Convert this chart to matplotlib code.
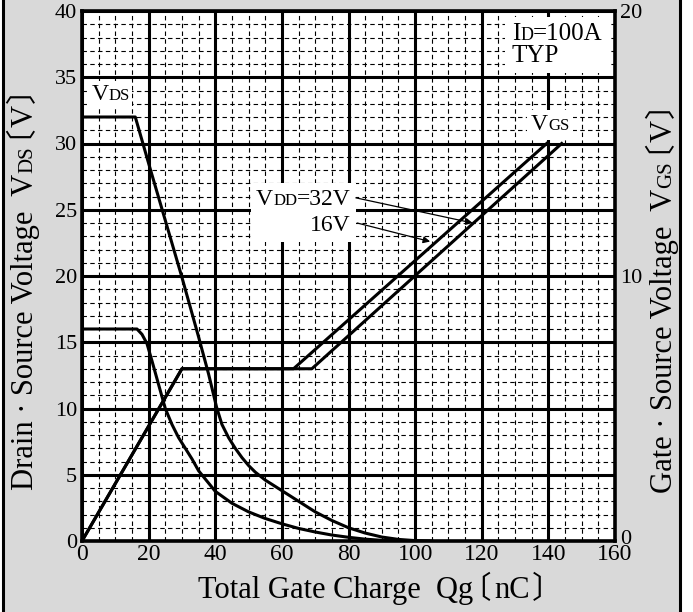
import matplotlib
matplotlib.use('Agg')
import matplotlib.pyplot as plt
from matplotlib.ticker import MultipleLocator
from matplotlib.offsetbox import TextArea, HPacker, VPacker, AnnotationBbox
from matplotlib.transforms import IdentityTransform, ScaledTranslation
from matplotlib.patches import Rectangle
from matplotlib.font_manager import FontProperties, findfont, get_font

plt.rcParams['font.family'] = ['Liberation Serif', 'Noto Sans CJK JP']

# drain-source voltage, VDD = 32V and 16V (left axis)
qg_vds32 = [0, 16, 20, 25, 30, 35, 38, 40.4, 42, 44, 46, 48, 50, 52, 55, 60, 65, 70, 75, 80, 85, 90, 95, 100, 105]
vds32 = [32, 32, 28.5, 24.2, 19.9, 15.4, 12.6, 10.1, 8.8, 7.8, 7.0, 6.3, 5.7, 5.2, 4.6, 3.8, 3.0, 2.2, 1.55, 1.0, 0.6, 0.3, 0.12, 0.03, 0]
qg_vds16 = [0, 16.5, 18, 19.5, 21, 23, 25, 27, 29, 31, 33, 35, 40, 45, 50, 55, 60, 65, 70, 75, 80, 85, 90, 95]
vds16 = [16, 16, 15.6, 14.9, 13.6, 11.8, 10.0, 8.8, 7.8, 7.0, 6.2, 5.3, 3.75, 2.85, 2.2, 1.7, 1.3, 0.95, 0.68, 0.45, 0.28, 0.14, 0.05, 0]

# gate-source voltage (right axis)
qg_vgs16 = [0, 30, 63.5, 139.5]
vgs16 = [0, 6.5, 6.5, 15]
qg_vgs32 = [0, 30, 69, 144]
vgs32 = [0, 6.5, 6.5, 15]

fig = plt.figure(figsize=(6.93, 6.12), dpi=100, facecolor='white')
fig.add_artist(Rectangle((3 / 693, -0.02), 677 / 693, 1.04, transform=fig.transFigure,
                         facecolor='#d9d9d9', edgecolor='black', lw=2.2, zorder=-1))

ax = fig.add_axes([82 / 693, 1 - 541 / 612, 533 / 693, 530 / 612])
ax.set_xlim(0, 160)
ax.set_ylim(0, 40)
ax.xaxis.set_major_locator(MultipleLocator(20))
ax.xaxis.set_minor_locator(MultipleLocator(5))
ax.yaxis.set_major_locator(MultipleLocator(5))
ax.yaxis.set_minor_locator(MultipleLocator(1))
ax.grid(which='minor', color='black', lw=0.8, ls=(0, (4, 3)))
ax.grid(which='major', color='black', lw=2.2)
ax.set_axisbelow(True)
ax.tick_params(which='both', length=0)
ax.tick_params(axis='x', pad=2.5, labelsize=17)
ax.tick_params(axis='y', pad=3.5, labelsize=16)
for s in ax.spines.values():
    s.set_linewidth(2.6)

ax2 = ax.twinx()
ax2.set_ylim(0, 20)
ax2.set_yticks([0, 10, 20])
ax2.tick_params(length=0, labelsize=16, pad=3.5)
for s in ax2.spines.values():
    s.set_visible(False)
# lift the right-hand 0 a little off the 160 below it
zero = ax2.yaxis.get_major_ticks()[0].label2
zero.set_transform(zero.get_transform() + ScaledTranslation(0, 3 / 72, fig.dpi_scale_trans))

ax.plot(qg_vds32, vds32, color='black', lw=2.2)
ax.plot(qg_vds16, vds16, color='black', lw=2.2)
ax2.plot(qg_vgs16, vgs16, color='black', lw=2.2)
ax2.plot(qg_vgs32, vgs32, color='black', lw=2.2)


def label(lines, align, sep=0):
    rows = []
    for line in lines:
        rows.append(HPacker(children=[TextArea(s, textprops=dict(fontsize=fs)) for s, fs in line],
                            align='baseline', pad=0, sep=0))
    if len(rows) == 1:
        return rows[0]
    return VPacker(children=rows, align=align, pad=0, sep=sep)


def put(box, xy, align, pad):
    ab = AnnotationBbox(box, xy, xycoords='data', box_alignment=align, pad=pad,
                        bboxprops=dict(facecolor='white', edgecolor='none'), zorder=3)
    ax.add_artist(ab)


put(label([[('V', 17), ('DS', 12)]], 'left'), (2.8, 33.7), (0, 0.5), 0.2)
put(label([[('I', 18), ('D', 13), ('=100A', 18)], [('TYP', 18)]], 'left'), (129, 39.1), (0, 1), 0.45)
put(label([[('V', 17), ('GS', 12)]], 'left'), (140.5, 31.4), (0.5, 0.5), 0.3)
put(label([[('V', 17), ('DD', 12), ('=32V', 17)], [('16V', 17)]], 'right', 4), (80.7, 24.8), (1, 0.5), 0.4)

arrow = dict(arrowstyle='-|>', color='black', lw=0.9, mutation_scale=10, shrinkA=0, shrinkB=0)
ax.annotate('', xy=(117.3, 24.0), xytext=(82.2, 25.9), arrowprops=arrow, zorder=4)
ax.annotate('', xy=(104.5, 22.6), xytext=(82.6, 24.0), arrowprops=arrow, zorder=4)


def ink_start(s, size):
    # left bearing of the first glyph; agg shifts rotated text by it along screen x
    fam = 'Noto Sans CJK JP' if s[0] in '〔〕' else 'Liberation Serif'
    f = get_font(findfont(FontProperties(family=fam)))
    f.set_size(size, fig.dpi)
    f.set_text(s, 0)
    return f.get_bitmap_offset()[0] / 64


def chain(parts, x, y, rot=0):
    r = fig.canvas.get_renderer()
    for s, size, gap in parts:
        xo = ink_start(s, size)
        kw = dict(fontsize=size, rotation=rot, rotation_mode='anchor', ha='left', va='baseline',
                  transform=IdentityTransform())
        if rot:
            y += gap
            t = fig.text(x - xo, y, s, **kw)
            y = t.get_window_extent(r).y1 - xo
        else:
            x += gap
            t = fig.text(x - xo, y, s, **kw)
            x = t.get_window_extent(r).x1


chain([('Drain · Source Voltage  V', 22, 0), ('DS', 15, 1), ('〔', 22, 9), ('V', 22, 2), ('〕', 22, 2)],
      33, 612 - 490, rot=90)
chain([('Gate · Source Voltage  V', 22, 0), ('GS', 15, 1), ('〔', 22, 9), ('V', 22, 2), ('〕', 22, 2)],
      672, 612 - 493, rot=90)
chain([('Total Gate Charge  Qg', 22, 0), ('〔', 22, 9), ('nC', 22, 4), ('〕', 22, 3)],
      198, 612 - 598)

fig.savefig('out.png', dpi=100)
